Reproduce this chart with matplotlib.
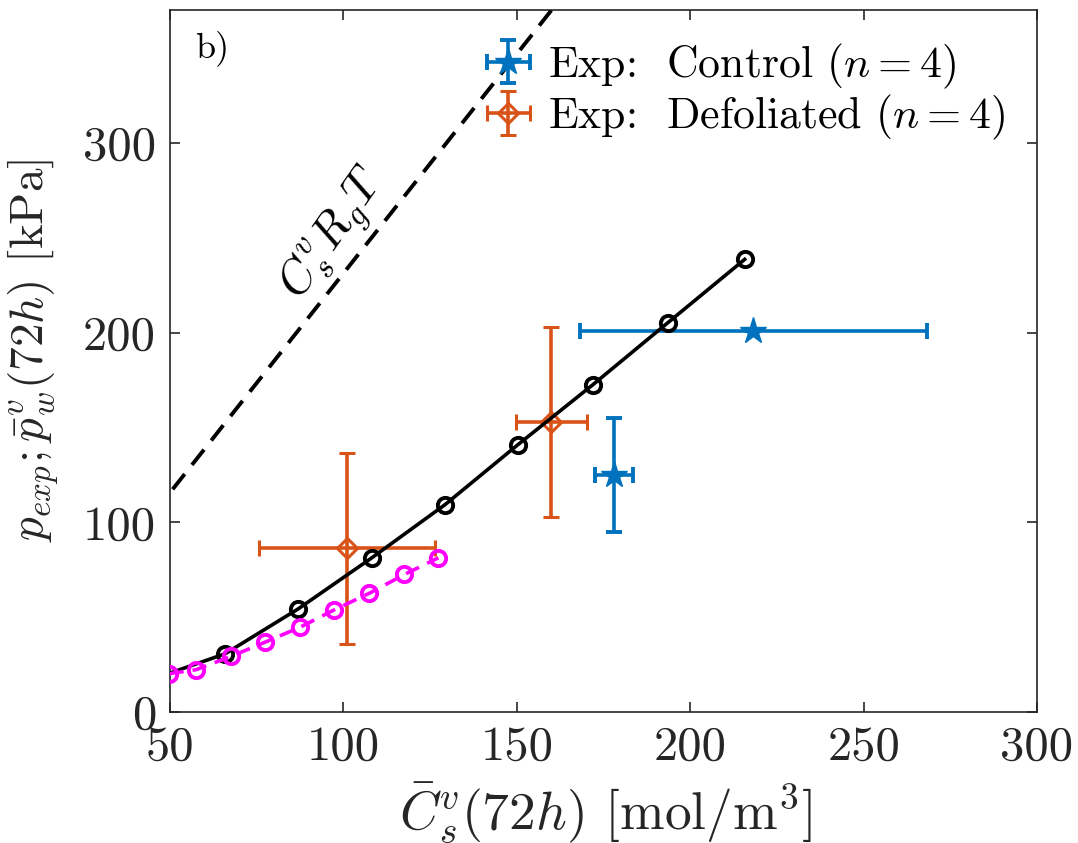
import numpy as np
import matplotlib
matplotlib.use("Agg")
import matplotlib.pyplot as plt

plt.rcParams['font.family'] = 'serif'
plt.rcParams['font.serif'] = ['cmr10']
plt.rcParams['mathtext.fontset'] = 'cm'
plt.rcParams['axes.unicode_minus'] = False

# model curve (black, solid) and second model (magenta, dashed)
cs_model = [44.8, 65.9, 87.0, 108.2, 129.3, 150.3, 171.9, 193.6, 215.7]
pw_model = [17.2, 30.7, 54.4, 81.3, 109.3, 140.9, 172.5, 205.3, 238.6]

cs_model2 = [49.8, 57.5, 67.6, 77.4, 87.5, 97.4, 107.5, 117.6, 127.4]
pw_model2 = [20.2, 22.3, 29.3, 36.8, 44.7, 53.9, 62.6, 72.5, 81.3]

# experiments
ctrl_x = [218.2, 178.1]
ctrl_y = [200.9, 124.8]
ctrl_xerr = [50.1, 5.5]
ctrl_yerr = [0.0, 30.1]

defo_x = [160.0, 101.0]
defo_y = [153.0, 86.2]
defo_xerr = [10.2, 25.3]
defo_yerr = [50.0, 50.3]

# ideal gas line  C R T
Rg = 8.314e-3
T = 278.15
cs_line = [0.0, 400.0]

blue = '#0072BD'
orange = '#D95319'
axcol = '#262626'

fig = plt.figure(figsize=(10.78, 8.43), dpi=100)
ax = fig.add_axes([0.1577, 0.1554, 0.8043, 0.8326])

e1 = ax.errorbar(ctrl_x, ctrl_y, xerr=ctrl_xerr, yerr=ctrl_yerr, fmt='*', color=blue,
                 ms=20, mec=blue, mfc=blue, elinewidth=2.6, capsize=6, capthick=2.8,
                 label=r'Exp:  Control $(n=4)$', zorder=2)
e2 = ax.errorbar(defo_x, defo_y, xerr=defo_xerr, yerr=defo_yerr, fmt='D', color=orange,
                 ms=10, mec=orange, mfc='none', mew=2.2, elinewidth=2.6, capsize=6,
                 capthick=2.8, label=r'Exp:  Defoliated $(n=4)$', zorder=2)

ax.plot(cs_model, pw_model, '-o', color='k', lw=2.6, ms=11, mfc='none', mew=2.8,
        zorder=3)
ax.plot(cs_model2, pw_model2, '--o', color=(1, 0, 1), lw=2.6, ms=11, mfc='none',
        mew=2.8, dashes=(4, 2.5), zorder=4)
ax.plot(cs_line, [c * Rg * T for c in cs_line], '--', color='k', lw=2.8,
        dashes=(5, 3), zorder=3)

ax.text(97.5, 251.5, r'$C_s^v R_g T$', fontsize=34, rotation=55, ha='center',
        va='center', rotation_mode='anchor')
ax.text(57.2, 350, 'b)', fontsize=26, ha='left', va='center')

ax.set_xlim(50, 300)
ax.set_ylim(0, 370)
ax.set_xticks([50, 100, 150, 200, 250, 300])
ax.set_yticks([0, 100, 200, 300])
ax.tick_params(direction='in', length=7, width=1.2, top=True, right=True,
               labelsize=35, colors=axcol, pad=10)
for s in ax.spines.values():
    s.set_color(axcol)
    s.set_linewidth(1.2)

ax.set_xlabel(r'$\bar{C}_s^v(72h)$ [mol/m$^3$]', fontsize=38.5, color=axcol)
ax.set_ylabel(r'$p_{exp};\bar{p}_w^v(72h)$ [kPa]', fontsize=34, color=axcol)
ax.xaxis.set_label_coords(0.502, -0.097)
ax.yaxis.set_label_coords(-0.126, 0.515)

ax.legend(handles=[e1, e2], loc='upper right', bbox_to_anchor=(0.993, 0.993),
          frameon=False, fontsize=31.5, handlelength=1.0, handletextpad=0.4,
          labelspacing=0.05, borderaxespad=0.2)

plt.savefig('out.png', dpi=100)
